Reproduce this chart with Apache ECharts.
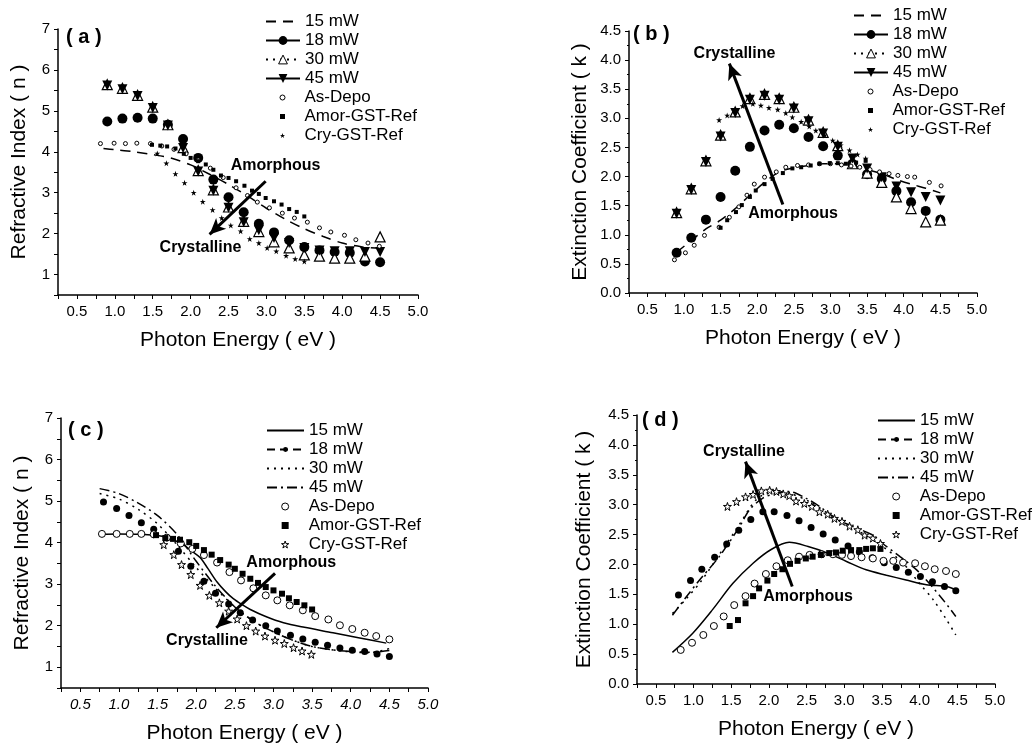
<!DOCTYPE html>
<html>
<head>
<meta charset="utf-8">
<title>n and k versus photon energy</title>
<script src="https://cdn.jsdelivr.net/npm/echarts@6/dist/echarts.min.js"></script>
<style>
html, body { margin: 0; padding: 0; background: #fff; }
#main { width: 1035px; height: 747px; }
</style>
</head>
<body>
<div id="main"></div>
<script>
// measured films (18/30/45 mW in a and b) share these energies
var xMeas = [0.9,1.1,1.3,1.5,1.7,1.9,2.1,2.3,2.5,2.7,2.9,3.1,3.3,3.5,3.7,3.9,4.1,4.3,4.5];

// (a) refractive index, measured
var nA15x = [0.85,1.0,1.25,1.5,1.75,2.0,2.25,2.5,2.75,3.0,3.25,3.5,3.75,4.0,4.25,4.5];
var nA15 = [4.08,4.05,4.0,3.93,3.84,3.68,3.45,3.2,2.92,2.62,2.35,2.12,1.93,1.77,1.68,1.64];
var nA18 = [4.74,4.81,4.83,4.81,4.66,4.31,3.85,3.32,2.89,2.52,2.24,2.03,1.84,1.67,1.59,1.55,1.53,1.32,1.30];
var nA30 = [5.64,5.55,5.38,5.09,4.66,4.10,3.54,3.07,2.65,2.30,2.05,1.80,1.65,1.48,1.45,1.40,1.40,1.45,1.92];
var nA45 = [5.62,5.53,5.36,5.07,4.64,4.09,3.52,3.05,2.63,2.28,2.08,1.89,1.77,1.65,1.59,1.57,1.57,1.55,1.55];
var nADepoX = [0.81,0.99,1.14,1.29,1.47,1.62,1.78,1.94,2.1,2.26,2.43,2.6,2.75,2.88,3.04,3.21,3.37,3.54,3.7,3.85,4.03,4.18,4.34,4.49];
var nADepo = [4.2,4.21,4.2,4.21,4.2,4.14,4.06,3.95,3.8,3.6,3.37,3.12,2.93,2.77,2.63,2.5,2.38,2.28,2.14,2.04,1.96,1.85,1.77,1.69];
var nAAmorX = [1.49,1.6,1.69,1.8,1.91,2.0,2.1,2.2,2.3,2.4,2.5,2.6,2.71,2.81,2.9,2.99,3.1,3.2,3.3,3.4,3.5];
var nAAmor = [4.17,4.15,4.13,4.08,3.95,3.85,3.77,3.69,3.56,3.42,3.36,3.28,3.17,3.05,2.97,2.87,2.79,2.71,2.6,2.53,2.42];
var nACryX = [1.56,1.68,1.8,1.92,2.04,2.16,2.29,2.41,2.53,2.66,2.78,2.9,3.01,3.13,3.26,3.38,3.5];
var nACry = [3.96,3.72,3.46,3.24,3.0,2.78,2.58,2.38,2.2,2.06,1.87,1.77,1.65,1.57,1.46,1.38,1.32];

// (b) extinction coefficient, measured
var kB15 = [0.70,0.90,1.10,1.25,1.45,1.68,1.90,2.08,2.15,2.19,2.22,2.22,2.18,2.12,2.05,1.95,1.87,1.80,1.72];
var kB18 = [0.69,0.95,1.26,1.65,2.10,2.51,2.79,2.89,2.83,2.68,2.52,2.36,2.22,2.04,1.96,1.75,1.56,1.41,1.26];
var kB30 = [1.38,1.79,2.27,2.71,3.11,3.34,3.41,3.34,3.19,2.97,2.76,2.53,2.22,2.06,1.90,1.65,1.45,1.22,1.25];
var kB45 = [1.36,1.77,2.25,2.69,3.09,3.32,3.39,3.32,3.17,2.95,2.74,2.51,2.31,2.14,1.99,1.83,1.73,1.65,1.59];
var kBDepoX = [0.87,1.02,1.14,1.28,1.48,1.62,1.75,1.86,1.96,2.1,2.26,2.39,2.55,2.7,2.85,3.0,3.15,3.28,3.4,3.54,3.67,3.8,3.92,4.05,4.15,4.35,4.51];
var kBDepo = [0.57,0.69,0.82,0.99,1.13,1.3,1.48,1.68,1.87,1.99,2.08,2.16,2.19,2.2,2.22,2.22,2.2,2.18,2.16,2.12,2.08,2.05,2.02,2.0,1.99,1.9,1.84];
var kBAmorX = [1.5,1.59,1.71,1.79,1.9,1.98,2.1,2.21,2.35,2.48,2.6,2.73,2.85,2.99,3.1,3.21,3.35,3.48];
var kBAmor = [1.12,1.25,1.39,1.51,1.65,1.76,1.87,1.96,2.06,2.14,2.16,2.19,2.22,2.23,2.23,2.22,2.24,2.27];
var kBCryX = [1.48,1.59,1.7,1.8,1.94,2.05,2.16,2.28,2.39,2.48,2.6,2.71,2.8,2.92,3.03,3.14,3.26,3.37,3.48];
var kBCry = [2.97,3.05,3.14,3.21,3.25,3.22,3.18,3.15,3.09,3.02,2.94,2.86,2.79,2.71,2.62,2.54,2.45,2.38,2.31];

// (c) refractive index, fitted
var nC15x = [0.75,1.0,1.25,1.45,1.62,1.83,1.96,2.05,2.15,2.27,2.38,2.48,2.6,2.7,2.9,3.13,3.4,3.77,4.1,4.46];
var nC15 = [4.2,4.21,4.2,4.18,4.13,3.95,3.77,3.64,3.38,3.05,2.82,2.65,2.5,2.39,2.22,2.07,1.96,1.83,1.71,1.58];
var nC18x = [0.8,0.97,1.13,1.29,1.45,1.62,1.77,1.93,2.1,2.25,2.42,2.57,2.73,2.9,3.05,3.22,3.38,3.54,3.7,3.86,4.02,4.18,4.34,4.5];
var nC18 = [4.98,4.82,4.65,4.48,4.32,4.12,3.79,3.43,3.07,2.78,2.52,2.31,2.14,2.0,1.87,1.77,1.68,1.6,1.53,1.46,1.41,1.38,1.32,1.26];
var nC30x = [0.75,1.0,1.25,1.5,1.75,2.0,2.25,2.5,2.75,3.0,3.25,3.5,3.75,4.0,4.25,4.5];
var nC30 = [5.18,5.05,4.8,4.45,3.95,3.4,2.9,2.45,2.1,1.85,1.65,1.5,1.42,1.37,1.35,1.45];
var nC45 = [5.3,5.18,4.95,4.65,4.2,3.55,2.95,2.45,2.1,1.85,1.65,1.5,1.42,1.38,1.36,1.4];
var nCDepoX = [0.78,0.97,1.14,1.29,1.45,1.62,1.8,1.95,2.1,2.27,2.43,2.58,2.74,2.9,3.05,3.21,3.38,3.54,3.71,3.86,4.02,4.18,4.33,4.5];
var nCDepo = [4.21,4.21,4.21,4.21,4.2,4.12,3.98,3.85,3.7,3.52,3.29,3.09,2.9,2.73,2.61,2.49,2.37,2.23,2.15,2.01,1.92,1.83,1.75,1.67];
var nCAmorX = [1.48,1.6,1.7,1.79,1.91,2.0,2.1,2.2,2.31,2.42,2.5,2.6,2.7,2.8,2.9,3.0,3.11,3.2,3.3,3.4,3.5];
var nCAmor = [4.18,4.11,4.09,4.07,4.01,3.92,3.82,3.71,3.58,3.47,3.37,3.25,3.13,3.03,2.93,2.85,2.77,2.66,2.57,2.49,2.39];
var nCCryX = [1.58,1.71,1.81,1.93,2.05,2.17,2.3,2.42,2.53,2.65,2.77,2.89,3.02,3.14,3.26,3.37,3.49];
var nCCry = [3.95,3.71,3.47,3.23,2.97,2.73,2.55,2.35,2.16,2.0,1.87,1.75,1.65,1.57,1.47,1.39,1.31];

// (d) extinction coefficient, fitted
var kD15x = [0.72,0.99,1.25,1.52,1.79,2.03,2.27,2.52,2.78,3.03,3.29,3.56,3.82,4.09,4.36,4.49];
var kD15 = [0.53,0.85,1.24,1.68,2.02,2.25,2.37,2.3,2.19,2.05,1.91,1.82,1.74,1.66,1.63,1.57];
var kD18x = [0.8,0.96,1.11,1.28,1.44,1.6,1.76,1.92,2.07,2.24,2.4,2.56,2.72,2.88,3.05,3.2,3.37,3.53,3.69,3.85,4.01,4.17,4.33,4.48];
var kD18 = [1.49,1.73,1.92,2.12,2.34,2.57,2.75,2.88,2.88,2.82,2.73,2.62,2.51,2.41,2.31,2.21,2.11,2.03,1.95,1.87,1.8,1.71,1.63,1.56];
var kD30x = [0.72,0.9,1.1,1.34,1.6,1.83,2.05,2.27,2.54,2.85,3.2,3.51,3.78,4.0,4.18,4.36,4.48];
var kD30 = [1.18,1.42,1.72,2.16,2.65,3.08,3.22,3.19,3.05,2.8,2.55,2.3,2.02,1.68,1.41,1.07,0.82];
var kD45x = [0.72,0.9,1.08,1.34,1.61,1.74,1.92,2.1,2.27,2.49,2.67,2.89,3.12,3.38,3.51,3.74,3.96,4.13,4.31,4.48];
var kD45 = [1.15,1.45,1.74,2.13,2.63,2.91,3.11,3.19,3.22,3.11,2.97,2.77,2.63,2.49,2.35,2.13,1.91,1.68,1.41,1.13];
var kDDepoX = [0.83,0.98,1.13,1.27,1.4,1.54,1.69,1.81,1.96,2.1,2.25,2.4,2.54,2.7,2.85,2.97,3.09,3.23,3.38,3.52,3.65,3.78,3.94,4.07,4.2,4.35,4.48];
var kDDepo = [0.57,0.69,0.82,0.97,1.13,1.32,1.47,1.68,1.84,1.97,2.07,2.13,2.16,2.17,2.17,2.16,2.14,2.12,2.1,2.06,2.06,2.03,2.02,1.97,1.92,1.89,1.84];
var kDAmorX = [1.48,1.59,1.69,1.79,1.87,1.98,2.07,2.18,2.28,2.38,2.49,2.58,2.69,2.8,2.89,2.98,3.09,3.2,3.29,3.38,3.48];
var kDAmor = [0.97,1.07,1.35,1.47,1.6,1.73,1.84,1.92,2.01,2.06,2.1,2.13,2.16,2.19,2.2,2.23,2.24,2.24,2.26,2.27,2.26];
var kDCryX = [1.45,1.57,1.69,1.79,1.9,2.01,2.1,2.19,2.27,2.36,2.47,2.57,2.67,2.78,2.87,2.97,3.07,3.18,3.27,3.38,3.48];
var kDCry = [2.97,3.05,3.13,3.17,3.23,3.24,3.22,3.18,3.15,3.06,3.02,2.97,2.88,2.84,2.77,2.72,2.64,2.58,2.49,2.44,2.35];

var FONT = 'Liberation Sans, Arial, Helvetica, sans-serif';
var STAR = 'path://M50,2L61,36L97,36L68,57L79,92L50,71L21,92L32,57L3,36L39,36Z';
var SQUARE = 'path://M0,0L10,0L10,10L0,10Z';

function pts(xs, ys) {
    return xs.map(function (x, i) { return [x, ys[i]]; });
}
function shortName(n) {
    return n.split('|')[1];
}

// fitted curve, no symbols
function curve(name, g, data, dash) {
    return {
        name: name, type: 'line', xAxisIndex: g, yAxisIndex: g, data: data,
        symbol: 'none', smooth: 0.3, z: 2,
        lineStyle: { color: '#000', width: 1.5, type: dash },
        itemStyle: { color: '#000' }
    };
}
// measured points drawn as big markers (legend still shows a line)
function marks(name, g, data, symbol, size, filled, rotate) {
    return {
        name: name, type: 'line', xAxisIndex: g, yAxisIndex: g, data: data,
        symbol: symbol, symbolSize: size, symbolRotate: rotate || 0, showSymbol: true, z: 3,
        lineStyle: { width: 0, opacity: 0 },
        itemStyle: { color: filled ? '#000' : '#fff', borderColor: '#000', borderWidth: filled ? 0 : 1.2 }
    };
}
// reference points
function refs(name, g, data, symbol, size, filled) {
    return {
        name: name, type: 'scatter', xAxisIndex: g, yAxisIndex: g, data: data,
        symbol: symbol, symbolSize: size, z: 4,
        itemStyle: { color: filled ? '#000' : '#fff', borderColor: '#000', borderWidth: filled ? 0 : 1, opacity: 1 }
    };
}
// arrow plus the two words, in data coordinates
function arrow(from, to, upper, lower) {
    return {
        markLine: {
            silent: true, symbol: ['none', 'arrow'], symbolSize: [11, 16],
            label: { show: false },
            lineStyle: { color: '#000', width: 3, type: 'solid' },
            data: [[{ coord: from }, { coord: to }]]
        },
        markPoint: {
            silent: true, symbol: 'rect', symbolSize: 1,
            itemStyle: { color: 'rgba(0,0,0,0)' },
            label: { show: true, position: 'inside', formatter: '{b}', color: '#000',
                     fontSize: 16, fontWeight: 'bold', fontFamily: FONT },
            data: [upper, lower]
        }
    };
}

var grids = [
    { left: 58, top: 29, width: 360, height: 266 },
    { left: 629, top: 31, width: 348, height: 262 },
    { left: 61, top: 418, width: 367, height: 270 },
    { left: 637, top: 415, width: 358, height: 269 }
];

function xAxis(g, italic) {
    return {
        type: 'value', gridIndex: g, min: 0.25, max: 5, interval: 0.25,
        name: 'Photon Energy ( eV )', nameLocation: 'middle', nameGap: 35,
        nameTextStyle: { fontSize: 21, color: '#000', fontFamily: FONT },
        axisLine: { lineStyle: { color: '#000', width: 1.5 } },
        axisTick: { length: 4, lineStyle: { color: '#000' } },
        splitLine: { show: false },
        axisLabel: {
            margin: 9, color: '#000', fontSize: 15, fontFamily: FONT, fontStyle: italic ? 'italic' : 'normal',
            formatter: function (v) {
                return Math.abs(v * 2 - Math.round(v * 2)) < 1e-6 ? v.toFixed(1) : '';
            }
        }
    };
}
function yAxisN(g) {
    return {
        type: 'value', gridIndex: g, min: 0.5, max: 7, interval: 0.5,
        name: 'Refractive Index ( n )', nameLocation: 'middle', nameGap: 28,
        nameTextStyle: { fontSize: 21, color: '#000', fontFamily: FONT },
        axisLine: { show: true, lineStyle: { color: '#000', width: 1.5 } },
        axisTick: { show: true, length: 4, lineStyle: { color: '#000' } },
        splitLine: { show: false },
        axisLabel: {
            margin: 8, color: '#000', fontSize: 15, fontFamily: FONT,
            formatter: function (v) { return Math.abs(v - Math.round(v)) < 1e-6 ? String(v) : ''; }
        }
    };
}
function yAxisK(g, gap) {
    return {
        type: 'value', gridIndex: g, min: 0, max: 4.5, interval: 0.5,
        name: 'Extinction Coefficient ( k )', nameLocation: 'middle', nameGap: gap,
        nameTextStyle: { fontSize: 21, color: '#000', fontFamily: FONT },
        axisLine: { show: true, lineStyle: { color: '#000', width: 1.5 } },
        axisTick: { show: true, length: 4, lineStyle: { color: '#000' } },
        minorTick: { show: true, splitNumber: 2, length: 2, lineStyle: { color: '#000' } },
        splitLine: { show: false },
        axisLabel: {
            margin: 8, color: '#000', fontSize: 15, fontFamily: FONT,
            formatter: function (v) { return v.toFixed(1); }
        }
    };
}

function legend(left, top, itemWidth, itemHeight, items) {
    return {
        orient: 'vertical', left: left, top: top, padding: 0, itemGap: 0,
        itemWidth: itemWidth, itemHeight: itemHeight, selectedMode: false,
        symbolKeepAspect: true, formatter: shortName,
        textStyle: { fontSize: 17, color: '#000', fontFamily: FONT, lineHeight: 19 },
        data: items
    };
}
function lineItem(name, type, hideSymbol, border) {
    var it = { name: name, lineStyle: { color: '#000', width: 2, type: type, opacity: 1 } };
    it.itemStyle = hideSymbol ? { opacity: 0 } : { borderWidth: border || 0, borderColor: '#000' };
    return it;
}
function markItem(name, border) {
    return { name: name, itemStyle: { borderWidth: border, borderColor: '#000' } };
}

var series = [];

// (a)
series.push(curve('a|15 mW', 0, pts(nA15x, nA15), [10, 7]));
series.push(marks('a|18 mW', 0, pts(xMeas, nA18), 'circle', 10, true));
series.push(marks('a|30 mW', 0, pts(xMeas, nA30), 'triangle', 10, false));
series.push(marks('a|45 mW', 0, pts(xMeas, nA45), 'triangle', 10, true, 180));
series.push(Object.assign(refs('a|As-Depo', 0, pts(nADepoX, nADepo), 'circle', 4, false),
    arrow([2.99, 3.28], [2.25, 1.98],
        { name: 'Amorphous', coord: [3.12, 3.67] }, { name: 'Crystalline', coord: [2.13, 1.65] })));
series.push(refs('a|Amor-GST-Ref', 0, pts(nAAmorX, nAAmor), SQUARE, 4, true));
series.push(refs('a|Cry-GST-Ref', 0, pts(nACryX, nACry), STAR, 6, true));

// (b)
series.push(curve('b|15 mW', 1, pts(xMeas, kB15), [10, 7]));
series.push(marks('b|18 mW', 1, pts(xMeas, kB18), 'circle', 10, true));
series.push(marks('b|30 mW', 1, pts(xMeas, kB30), 'triangle', 10, false));
series.push(marks('b|45 mW', 1, pts(xMeas, kB45), 'triangle', 10, true, 180));
series.push(Object.assign(refs('b|As-Depo', 1, pts(kBDepoX, kBDepo), 'circle', 4, false),
    arrow([2.35, 1.52], [1.62, 3.94],
        { name: 'Crystalline', coord: [1.69, 4.11] }, { name: 'Amorphous', coord: [2.49, 1.36] })));
series.push(refs('b|Amor-GST-Ref', 1, pts(kBAmorX, kBAmor), SQUARE, 4, true));
series.push(refs('b|Cry-GST-Ref', 1, pts(kBCryX, kBCry), STAR, 6, true));

// (c)
series.push(curve('c|15 mW', 2, pts(nC15x, nC15), 'solid'));
series.push(curve('c|30 mW', 2, pts(nC30x, nC30), [2, 5]));
series.push(curve('c|45 mW', 2, pts(nC30x, nC45), [10, 4, 2, 4]));
series.push(marks('c|18 mW', 2, pts(nC18x, nC18), 'circle', 7, true));
series.push(Object.assign(refs('c|As-Depo', 2, pts(nCDepoX, nCDepo), 'circle', 7, false),
    arrow([3.02, 3.26], [2.26, 1.95],
        { name: 'Amorphous', coord: [3.23, 3.53] }, { name: 'Crystalline', coord: [2.14, 1.65] })));
series.push(refs('c|Amor-GST-Ref', 2, pts(nCAmorX, nCAmor), SQUARE, 6, true));
series.push(refs('c|Cry-GST-Ref', 2, pts(nCCryX, nCCry), STAR, 8, false));

// (d)
series.push(curve('d|15 mW', 3, pts(kD15x, kD15), 'solid'));
series.push(curve('d|30 mW', 3, pts(kD30x, kD30), [2, 5]));
series.push(curve('d|45 mW', 3, pts(kD45x, kD45), [10, 4, 2, 4]));
series.push(marks('d|18 mW', 3, pts(kD18x, kD18), 'circle', 7, true));
series.push(Object.assign(refs('d|As-Depo', 3, pts(kDDepoX, kDDepo), 'circle', 7, false),
    arrow([2.31, 1.63], [1.69, 3.72],
        { name: 'Crystalline', coord: [1.67, 3.89] }, { name: 'Amorphous', coord: [2.52, 1.46] })));
series.push(refs('d|Amor-GST-Ref', 3, pts(kDAmorX, kDAmor), SQUARE, 6, true));
series.push(refs('d|Cry-GST-Ref', 3, pts(kDCryX, kDCry), STAR, 8, false));

// the marker-only legends draw no full-width icon, so their box starts at the centred symbol
var legends = [];
['a', 'b'].forEach(function (p, i) {
    var left = i === 0 ? 265 : 853, top = i === 0 ? 12 : 6;
    legends.push(legend(left, top, 34, 11, [
        lineItem(p + '|15 mW', [10, 7], true),
        lineItem(p + '|18 mW', 'solid'),
        lineItem(p + '|30 mW', [2, 5], false, 1),
        lineItem(p + '|45 mW', 'solid')
    ]));
    legends.push(legend(left + 14.5, top + 76, 34, 5, [
        markItem(p + '|As-Depo', 1), markItem(p + '|Amor-GST-Ref', 0), markItem(p + '|Cry-GST-Ref', 0)
    ]));
});
['c', 'd'].forEach(function (p, i) {
    var left = i === 0 ? 266 : 877, top = i === 0 ? 421 : 411;
    legends.push(legend(left, top, 37, 6, [
        lineItem(p + '|15 mW', 'solid', true),
        lineItem(p + '|18 mW', [8, 5]),
        lineItem(p + '|30 mW', [2, 5], true),
        lineItem(p + '|45 mW', [10, 4, 2, 4], true)
    ]));
    legends.push(legend(left + 15, top + 76, 37, 7, [
        markItem(p + '|As-Depo', 1), markItem(p + '|Amor-GST-Ref', 0), markItem(p + '|Cry-GST-Ref', 1)
    ]));
});

var labelStyle = { fontSize: 20, fontWeight: 'bold', color: '#000', fontFamily: FONT };
var option = {
    backgroundColor: '#fff',
    animation: false,
    title: [
        { text: '( a )', left: 66, top: 27, padding: 0, textStyle: labelStyle },
        { text: '( b )', left: 633, top: 24, padding: 0, textStyle: labelStyle },
        { text: '( c )', left: 68, top: 420, padding: 0, textStyle: labelStyle },
        { text: '( d )', left: 642, top: 410, padding: 0, textStyle: labelStyle }
    ],
    legend: legends,
    grid: grids,
    xAxis: [xAxis(0), xAxis(1), xAxis(2, true), xAxis(3)],
    yAxis: [yAxisN(0), yAxisK(1, 38), yAxisN(2), yAxisK(3, 42)],
    series: series
};

var myChart = echarts.init(document.getElementById('main'));
myChart.setOption(option);
</script>
</body>
</html>
